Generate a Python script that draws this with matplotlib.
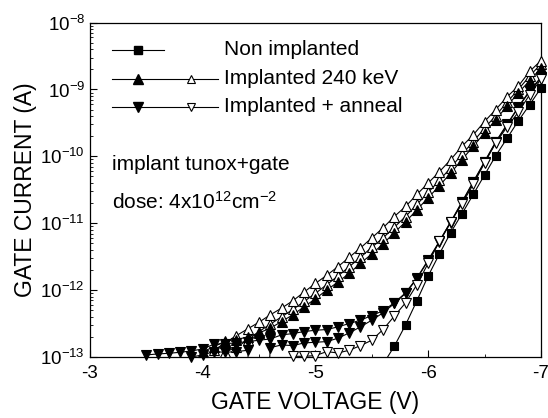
import numpy as np
import matplotlib
matplotlib.use("Agg")
import matplotlib.pyplot as plt
from matplotlib.ticker import FixedLocator, NullFormatter, LogFormatterSciNotation

plt.rcParams["font.family"] = ["Liberation Sans", "DejaVu Sans"]
plt.rcParams["mathtext.fontset"] = "custom"
plt.rcParams["mathtext.rm"] = "Liberation Sans"
plt.rcParams["mathtext.it"] = "Liberation Sans:italic"

nan = float("nan")

# gate voltage (V), 0.1 V steps
volts = [-3.5, -3.6, -3.7, -3.8, -3.9, -4.0, -4.1, -4.2, -4.3, -4.4, -4.5, -4.6,
         -4.7, -4.8, -4.9, -5.0, -5.1, -5.2, -5.3, -5.4, -5.5, -5.6, -5.7, -5.8,
         -5.9, -6.0, -6.1, -6.2, -6.3, -6.4, -6.5, -6.6, -6.7, -6.8, -6.9, -7.0]

# log10 of gate current (A)
non_impl = [nan] * 21 + [-13.11, -12.84, -12.52, -12.16, -11.79, -11.46, -11.14, -10.86,
                         -10.57, -10.28, -9.99, -9.73, -9.47, -9.23, -8.98]
impl_fill = [nan] * 5 + [-12.92, -12.85, -12.76, -12.74, -12.70, -12.64, -12.57, -12.47,
                         -12.37, -12.25, -12.13, -12.00, -11.88, -11.75, -11.60, -11.46,
                         -11.31, -11.14, -10.98, -10.80, -10.62, -10.44, -10.25, -10.05,
                         -9.85, -9.65, -9.45, -9.25, -9.05, -8.87, -8.68]
impl_open_a = [nan] * 6 + [-12.90, -12.79, -12.68, -12.58, -12.48, -12.37, -12.27, -12.16,
                           -12.03, -11.90, -11.78, -11.65, -11.51, -11.37, -11.22, -11.07,
                           -10.90, -10.75, -10.57, -10.40, -10.23, -10.05, -9.85, -9.68,
                           -9.48, -9.30, -9.11, -8.95, -8.73, -8.57]
impl_open_b = [nan] * 7 + [-12.93, -12.85, -12.75, -12.62, -12.51, -12.40, -12.29, -12.17,
                           -12.05, -11.92, -11.79, -11.65, -11.51, -11.36, -11.22, -11.06,
                           -10.90, -10.72, -10.54, -10.36, -10.17, -9.97, -9.78, -9.58,
                           -9.39, -9.19, -9.00, -8.80, -8.62]
anneal_fill_a = [-12.97, -12.955, -12.945, -12.93, -12.91, -12.88, -12.81, -12.80, -12.79,
                 -12.77, -12.75, -12.73, -12.67, -12.65, -12.62, -12.60, -12.59, -12.55,
                 -12.50, -12.45, -12.38, -12.31, -12.19, -12.04, -11.82, -11.55, -11.27,
                 -10.98, -10.68, -10.38, -10.08, -9.78, -9.52, -9.26, -9.02, -8.82]
anneal_fill_b = [nan] * 4 + [-13.0, -12.97, -12.92, -12.93, -12.92, -12.90, -16.0, -12.86,
                             -12.82, -12.83, -12.79, -12.78, -12.77, -12.72, -12.64, -12.55,
                             -12.45, -12.34, -12.20, -12.05, -11.83, -11.56, -11.28, -10.99,
                             -10.69, -10.39, -10.09, -9.79, -9.53, -9.27, -9.03, -8.83]
anneal_open = [nan] * 13 + [-12.99, -12.99, -12.98, -12.92, -12.94, -12.90, -12.83, -12.75,
                            -12.59, -12.39, -12.19, -11.92, -11.60, -11.27, -10.98, -10.71,
                            -10.42, -10.10, -9.80, -9.56, -9.34, -9.08, -8.85]

x_ticks = [-3, -4, -5, -6, -7]
x_minor = [-3.5, -4.5, -5.5, -6.5]
y_decades = [-13, -12, -11, -10, -9, -8]
legend_labels = ["Non implanted", "Implanted 240 keV", "Implanted + anneal"]

fig = plt.figure(figsize=(5.48, 4.18), dpi=100)
ax = fig.add_axes([0.164, 0.146, 0.823, 0.8])

TRI = 7.0
SQ = 6.2


def draw(logi, marker, face, ms=TRI):
    x = np.array(volts)
    cur = 10.0 ** np.array(logi, dtype=float)
    ax.plot(x, cur, "-", color="k", lw=0.8)
    vis = cur >= 0.999e-13
    ax.plot(x[vis], cur[vis], ls="none", marker=marker, ms=ms, mfc=face,
            mec="k", mew=0.8, clip_on=False, zorder=3)


draw(impl_open_b, "^", "white")
draw(impl_open_a, "^", "white")
draw(impl_fill, "^", "k")
draw(anneal_fill_b, "v", "k")
draw(anneal_fill_a, "v", "k")
draw(anneal_open, "v", "white")
draw(non_impl, "s", "k", ms=SQ)

ax.set_yscale("log")
ax.set_xlim(-3, -7)
ax.set_ylim(1e-13, 1e-8)
ax.xaxis.set_major_locator(FixedLocator(x_ticks))
ax.xaxis.set_minor_locator(FixedLocator(x_minor))
ax.set_xticklabels([str(v) for v in x_ticks])
y_major = [10.0 ** d for d in y_decades]
y_minor = [k * 10.0 ** d for d in y_decades[:-1] for k in range(2, 10)]
ax.yaxis.set_major_locator(FixedLocator(y_major))
ax.yaxis.set_minor_locator(FixedLocator(y_minor))
ax.yaxis.set_major_formatter(LogFormatterSciNotation())
ax.yaxis.set_minor_formatter(NullFormatter())
ax.tick_params(which="both", direction="in", top=False, right=False, labelsize=13.5)
ax.tick_params(axis="x", pad=6)
ax.tick_params(which="major", length=5, width=0.8)
ax.tick_params(which="minor", length=2.5, width=0.6)
for s in ax.spines.values():
    s.set_linewidth(0.9)

ax.set_xlabel("GATE VOLTAGE (V)", fontsize=16.5, labelpad=6)
ax.set_ylabel("GATE CURRENT (A)", fontsize=16.5, labelpad=2)

# legend drawn by hand, as in the original
tr = ax.transAxes
rows_y = [0.919, 0.832, 0.749]
ax.plot([0.048, 0.165], [rows_y[0]] * 2, color="k", lw=0.8, transform=tr)
ax.plot([0.106], [rows_y[0]], "s", ms=SQ, color="k", transform=tr)
for y, m in zip(rows_y[1:], ["^", "v"]):
    ax.plot([0.048, 0.285], [y, y], color="k", lw=0.8, transform=tr)
    ax.plot([0.106], [y], m, ms=TRI, mfc="k", mec="k", transform=tr)
    ax.plot([0.225], [y], m, ms=TRI - 1, mfc="white", mec="k", mew=0.8, transform=tr)
for y, lab in zip(rows_y, legend_labels):
    ax.text(0.297, y, lab, transform=tr, fontsize=15, va="center", ha="left")

ax.text(0.048, 0.575, "implant tunox+gate", transform=tr, fontsize=15, va="center")
ax.text(0.048, 0.465, r"dose: 4x10$^{12}$cm$^{-2}$", transform=tr, fontsize=15,
        va="center")

fig.savefig("out.png", dpi=100)
